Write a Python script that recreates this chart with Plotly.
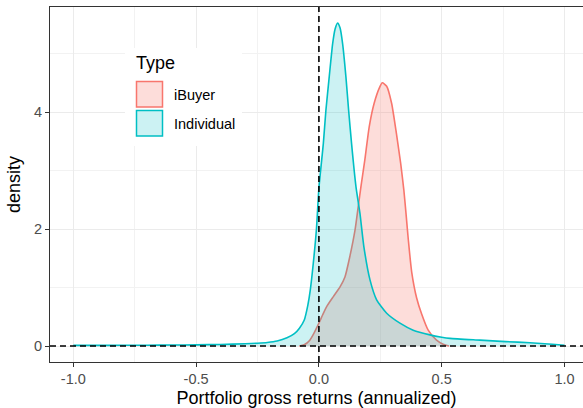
import plotly.graph_objects as go

# ---------------- data ----------------
categories = ["iBuyer", "Individual"]

ibuyer_x = [-0.08, -0.06, -0.037, -0.02, 0.0, 0.015, 0.031, 0.058, 0.086, 0.106,
            0.126, 0.147, 0.16, 0.172, 0.187, 0.205, 0.225, 0.248, 0.258, 0.276,
            0.296, 0.316, 0.333, 0.346, 0.355, 0.364, 0.378, 0.398, 0.418, 0.445,
            0.479, 0.506, 0.53]
ibuyer_y = [0.0, 0.02, 0.10, 0.22, 0.39, 0.53, 0.67, 0.84, 1.01, 1.18,
            1.53, 1.98, 2.38, 2.75, 3.18, 3.75, 4.15, 4.43, 4.50, 4.44,
            4.15, 3.62, 3.12, 2.66, 2.25, 1.82, 1.26, 0.82, 0.55, 0.27,
            0.10, 0.03, 0.0]

individual_x = [-1.0, -0.9, -0.8, -0.7, -0.6, -0.5, -0.4, -0.3, -0.25, -0.21,
                -0.17, -0.13, -0.10, -0.08, -0.06, -0.045, -0.035, -0.023, -0.01, 0.0,
                0.018, 0.0285, 0.042, 0.056, 0.066, 0.076, 0.086, 0.0965, 0.11, 0.121,
                0.133, 0.151, 0.167, 0.183, 0.208, 0.235, 0.276, 0.33, 0.384, 0.452,
                0.5, 0.534, 0.656, 0.76, 0.86, 0.95, 1.0]
individual_y = [0.010, 0.010, 0.012, 0.014, 0.016, 0.020, 0.026, 0.038, 0.048, 0.060,
                0.085, 0.14, 0.21, 0.30, 0.44, 0.70, 0.96, 1.41, 2.0, 2.7,
                3.46, 4.03, 4.6, 5.17, 5.42, 5.52, 5.44, 5.17, 4.6, 4.03,
                3.46, 2.72, 2.27, 1.70, 1.13, 0.79, 0.56, 0.39, 0.27, 0.19,
                0.15, 0.13, 0.10, 0.075, 0.056, 0.03, 0.012]

series_x = [ibuyer_x, individual_x]
series_y = [ibuyer_y, individual_y]

x_tick_vals = [-1.0, -0.5, 0.0, 0.5, 1.0]
x_tick_text = ["-1.0", "-0.5", "0.0", "0.5", "1.0"]
x_minor_vals = [-0.75, -0.25, 0.25, 0.75]
y_tick_vals = [0, 2, 4]
y_tick_text = ["0", "2", "4"]
y_minor_vals = [1, 3, 5]

ref_x = 0.0
ref_y = 0.0

x_title = "Portfolio gross returns (annualized)"
y_title = "density"
legend_title = "Type"

# ---------------- style ----------------
line_colors = ["#F8766D", "#00BFC4"]
fill_colors = ["rgba(248,118,109,0.25)", "rgba(0,191,196,0.2)"]
FONT = "Liberation Sans, Arial, Helvetica, sans-serif"

W, H = 583, 408
ML, MR, MT, MB = 50, 0, 7, 46


def pxx(px):
    return (px - ML) / (W - ML - MR)


def pxy(py):
    return (H - MB - py) / (H - MT - MB)


fig = go.Figure()
for name, xs, ys, lc, fc in zip(categories, series_x, series_y, line_colors, fill_colors):
    fig.add_trace(go.Scatter(
        x=xs, y=ys, name=name, mode="lines",
        line=dict(color=lc, width=1.6, shape="spline", smoothing=0.6),
        fill="tozeroy", fillcolor=fc, showlegend=False,
    ))

dash_line = dict(color="black", width=1.6, dash="6px,4px")
fig.add_hline(y=ref_y, line=dash_line)
fig.add_vline(x=ref_x, line=dash_line)

# legend (drawn manually to match ggplot-style square keys)
fig.add_shape(type="rect", xref="paper", yref="paper",
              x0=pxx(125), x1=pxx(242), y0=pxy(146), y1=pxy(48),
              fillcolor="white", line=dict(width=0), layer="above")
fig.add_annotation(xref="paper", yref="paper", x=pxx(134), y=pxy(63),
                   text=legend_title, showarrow=False, xanchor="left", yanchor="middle",
                   font=dict(family=FONT, size=18, color="black"))
key_top = 81
for i, (name, lc, fc) in enumerate(zip(categories, line_colors, fill_colors)):
    y0 = key_top + i * 29
    fig.add_shape(type="rect", xref="paper", yref="paper",
                  x0=pxx(136.5), x1=pxx(162.5), y0=pxy(y0 + 26), y1=pxy(y0 + 0.5),
                  fillcolor=fc, line=dict(color=lc, width=1.5), layer="above")
    fig.add_annotation(xref="paper", yref="paper", x=pxx(172), y=pxy(y0 + 13.5),
                       text=name, showarrow=False, xanchor="left", yanchor="middle",
                       font=dict(family=FONT, size=14.5, color="black"))

axis_common = dict(
    showline=True, linecolor="#333333", linewidth=1,
    ticks="outside", ticklen=4, tickcolor="#333333", tickwidth=1,
    showgrid=True, gridcolor="#EBEBEB", gridwidth=1,
    zeroline=False,
    tickfont=dict(family=FONT, size=14.5, color="#4D4D4D"),
)

fig.update_xaxes(
    **axis_common,
    mirror=True,
    range=[-1.095, 1.0754],
    tickmode="array", tickvals=x_tick_vals, ticktext=x_tick_text,
    minor=dict(tickmode="array", tickvals=x_minor_vals, showgrid=True,
               gridcolor="#F2F2F2", gridwidth=1, ticks=""),
    title=dict(text=x_title, font=dict(family=FONT, size=18, color="black"), standoff=6),
)
fig.update_yaxes(
    **axis_common,
    mirror=False,
    range=[-0.2735, 5.795],
    tickmode="array", tickvals=y_tick_vals, ticktext=y_tick_text,
    minor=dict(tickmode="array", tickvals=y_minor_vals, showgrid=True,
               gridcolor="#F2F2F2", gridwidth=1, ticks=""),
    title=dict(text=y_title, font=dict(family=FONT, size=18, color="black"), standoff=8),
)

fig.update_layout(
    width=W, height=H,
    margin=dict(l=ML, r=MR, t=MT, b=MB, autoexpand=False),
    paper_bgcolor="white", plot_bgcolor="white",
    font=dict(family=FONT),
    showlegend=False,
    hovermode=False,
)

fig.write_html("out.html",
               config={"displayModeBar": False, "staticPlot": True},
               post_script="document.body.style.margin='0';document.body.style.overflow='hidden';")
